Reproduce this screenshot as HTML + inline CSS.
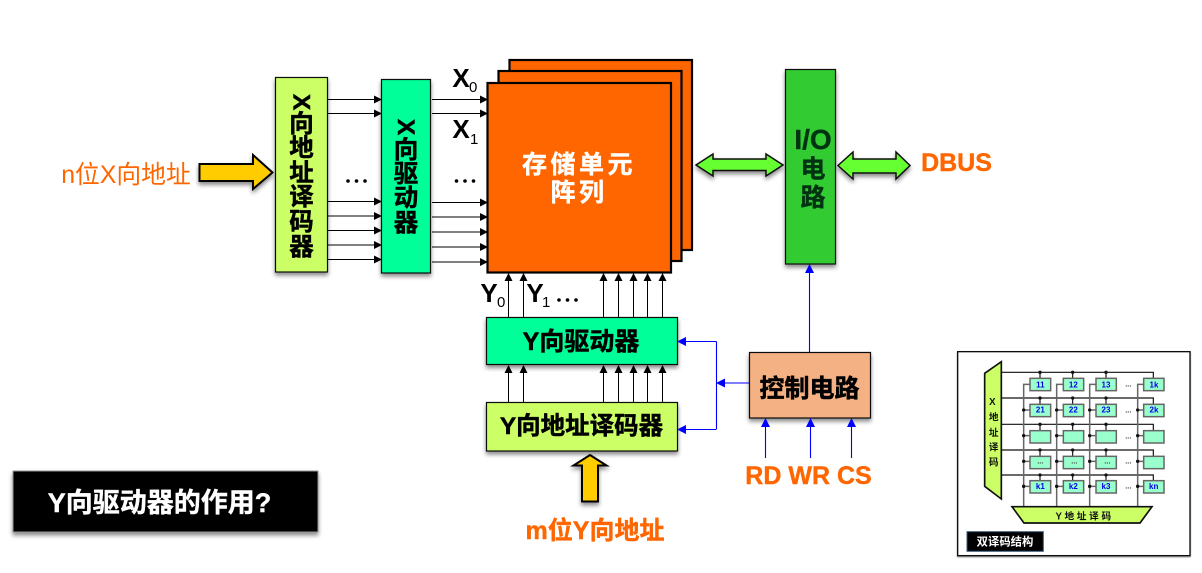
<!DOCTYPE html>
<html><head><meta charset="utf-8"><style>
html,body{margin:0;padding:0;background:#fff;width:1202px;height:573px;overflow:hidden}
svg{display:block}
text{font-family:"Liberation Sans","Noto Sans CJK SC",sans-serif;font-weight:bold;text-anchor:middle}
</style></head><body>
<svg width="1202" height="573" viewBox="0 0 1202 573" xmlns="http://www.w3.org/2000/svg">
<defs>
<filter id="s" x="-20%" y="-20%" width="140%" height="140%"><feDropShadow dx="0" dy="3" stdDeviation="2" flood-color="#000" flood-opacity=".45"/></filter>
<marker id="k" markerWidth="8" markerHeight="8" refX="7" refY="4" orient="auto" markerUnits="userSpaceOnUse"><path d="M0 0L8 4L0 8Z" fill="#000"/></marker>
<marker id="b" markerWidth="9" markerHeight="9" refX="8" refY="4.5" orient="auto" markerUnits="userSpaceOnUse"><path d="M0 0L9 4.5L0 9Z" fill="#00f"/></marker>
</defs>

<!-- memory stacks -->
<g stroke="#000" stroke-width="2.2" fill="#ff6600">
<rect x="509.500" y="60" width="182.500" height="190"/>
<rect x="498.500" y="71" width="183" height="190"/>
<rect x="487.500" y="83" width="183.500" height="189.500"/>
</g>
<g fill="#fff" stroke="#fff" stroke-width=".4">
<text x="579" y="173" font-size="25" letter-spacing="3.500">存储单元</text>
<text x="579" y="201" font-size="25" letter-spacing="3.500">阵列</text>
</g>

<!-- X decoder / driver -->
<rect x="275.500" y="77.500" width="52" height="194.500" fill="#ccff66" stroke="#111" stroke-width="1.200" filter="url(#s)"/>
<rect x="381.500" y="79.500" width="49" height="193.500" fill="#00ff99" stroke="#111" stroke-width="1.200" filter="url(#s)"/>
<g font-size="24.500" fill="#000" stroke="#000" stroke-width=".5">
<text transform="translate(301.500,102) rotate(90)" y="8">X</text>
<text x="301.500" y="132">向</text><text x="301.500" y="156">地</text><text x="301.500" y="181">址</text><text x="301.500" y="205">译</text><text x="301.500" y="230">码</text><text x="301.500" y="255">器</text>
<text transform="translate(406,127) rotate(90)" y="8">X</text>
<text x="406" y="158">向</text><text x="406" y="182">驱</text><text x="406" y="206">动</text><text x="406" y="231">器</text>
</g>

<!-- X lines -->
<g stroke="#000" stroke-width="1" fill="none">
<path d="M328 99.500H381" marker-end="url(#k)"/><path d="M328 113.500H381" marker-end="url(#k)"/>
<path d="M328 201.500H381" marker-end="url(#k)"/><path d="M328 216H381" marker-end="url(#k)"/><path d="M328 230.500H381" marker-end="url(#k)"/><path d="M328 245H381" marker-end="url(#k)"/><path d="M328 259.500H381" marker-end="url(#k)"/>
<path d="M432 99.500H487" marker-end="url(#k)"/><path d="M432 113.500H487" marker-end="url(#k)"/>
<path d="M432 202.500H487" marker-end="url(#k)"/><path d="M432 217H487" marker-end="url(#k)"/><path d="M432 232H487" marker-end="url(#k)"/><path d="M432 247H487" marker-end="url(#k)"/><path d="M432 262H487" marker-end="url(#k)"/>
</g>

<!-- Y lines -->
<g stroke="#000" stroke-width="1" fill="none">
<path d="M508.500 317V274" marker-end="url(#k)"/><path d="M523.500 317V274" marker-end="url(#k)"/><path d="M603.500 317V274" marker-end="url(#k)"/><path d="M618.500 317V274" marker-end="url(#k)"/><path d="M633.500 317V274" marker-end="url(#k)"/><path d="M647.500 317V274" marker-end="url(#k)"/><path d="M662.500 317V274" marker-end="url(#k)"/>
<path d="M508.500 402V366" marker-end="url(#k)"/><path d="M523.500 402V366" marker-end="url(#k)"/><path d="M603.500 402V366" marker-end="url(#k)"/><path d="M618.500 402V366" marker-end="url(#k)"/><path d="M633.500 402V366" marker-end="url(#k)"/><path d="M647.500 402V366" marker-end="url(#k)"/><path d="M662.500 402V366" marker-end="url(#k)"/>
</g>

<rect x="486.500" y="317.500" width="191" height="47" fill="#00ff99" stroke="#111" stroke-width="1.200" filter="url(#s)"/>
<rect x="486.500" y="402.500" width="191" height="48.500" fill="#ccff66" stroke="#111" stroke-width="1.200" filter="url(#s)"/>
<g fill="#000" stroke="#000" stroke-width=".5">
<text x="581" y="350" font-size="25">Y向驱动器</text>
<text x="581.500" y="434" font-size="24.500">Y向地址译码器</text>
</g>

<!-- labels X, Y -->
<g fill="#000">
<text x="461" y="87" font-size="26">X</text><text x="469" y="92" font-size="15" style="font-weight:normal;text-anchor:start">0</text>
<text x="461" y="138" font-size="26">X</text><text x="470" y="144" font-size="15" style="font-weight:normal;text-anchor:start">1</text>
<text x="489" y="302" font-size="26">Y</text><text x="497" y="307" font-size="15" style="font-weight:normal;text-anchor:start">0</text>
<text x="535" y="302" font-size="26">Y</text><text x="542" y="307" font-size="15" style="font-weight:normal;text-anchor:start">1</text>
<g><circle cx="348" cy="181" r="1.800"/><circle cx="356.500" cy="181" r="1.800"/><circle cx="365" cy="181" r="1.800"/>
<circle cx="456.500" cy="181" r="1.800"/><circle cx="465" cy="181" r="1.800"/><circle cx="473.500" cy="181" r="1.800"/>
<circle cx="559" cy="300" r="1.800"/><circle cx="567.500" cy="300" r="1.800"/><circle cx="576" cy="300" r="1.800"/></g>
</g>

<!-- IO and control -->
<rect x="785.500" y="69.500" width="50" height="194.500" fill="#33cc33" stroke="#111" stroke-width="1.200" filter="url(#s)"/>
<g fill="#031" stroke="#031" stroke-width=".4">
<text x="813" y="149" font-size="28">I/O</text>
<text x="813" y="177.500" font-size="25">电</text>
<text x="813" y="206" font-size="25">路</text>
</g>
<rect x="749.500" y="352.500" width="121" height="65.500" fill="#f4b183" stroke="#111" stroke-width="1.200" filter="url(#s)"/>
<text x="809.500" y="397" font-size="25" fill="#000" stroke="#000" stroke-width=".5">控制电路</text>

<!-- blue -->
<g stroke="#0000ff" stroke-width="1.100" fill="none">
<path d="M809.500 352V265" marker-end="url(#b)"/>
<path d="M749 383H717" marker-end="url(#b)"/>
<path d="M716.500 341.500V429"/>
<path d="M716.500 341.500H678" marker-end="url(#b)"/>
<path d="M716.500 429.500H678" marker-end="url(#b)"/>
<path d="M765.500 458V419" marker-end="url(#b)"/>
<path d="M810.500 458V419" marker-end="url(#b)"/>
<path d="M851.500 458V419" marker-end="url(#b)"/>
</g>

<!-- double arrows -->
<g fill="#66ff33" stroke="#111" stroke-width="1.500" filter="url(#s)">
<path d="M696 165L713 154V159H766V154L783 165L766 176V170.500H713V176Z"/>
<path d="M838 165.500L853 152V159H896V152L910 165.500L896 179V173H853V179Z"/>
</g>

<!-- yellow arrows -->
<g fill="#ffcc00" stroke="#000" stroke-width="2" filter="url(#s)">
<path d="M199.500 164H253V155L272.500 172.500L253 189V181H199.500Z"/>
<path d="M590 455L606.500 465.500H598V501.500H582V465.500H573.500Z"/>
</g>

<!-- orange labels -->
<g fill="#ff6600">
<text x="126" y="183" font-size="24.800" style="font-weight:normal">n位X向地址</text>
<g stroke="#ff6600" stroke-width=".4">
<text x="956.500" y="171" font-size="25">DBUS</text>
<text x="808.500" y="484" font-size="25">RD WR CS</text>
<text x="595" y="539" font-size="25">m位Y向地址</text>
</g>
</g>

<!-- question -->
<rect x="13" y="471" width="305" height="61" fill="#000" stroke="#999" stroke-width="1" filter="url(#s)"/>
<text x="159.500" y="512" font-size="27" fill="#fff" stroke="#fff" stroke-width=".4">Y向驱动器的作用?</text>

<!-- inset -->
<g transform="translate(950,345) scale(.33333)">
<rect x="23" y="20" width="697" height="612" fill="#fff" stroke="#111" stroke-width="4" filter="url(#s)"/>
<g stroke="#111" stroke-width="3.500" fill="none">
<path d="M155 82H610V100M155 159H610V178M155 238H610V257M155 315H610V334M155 390H610V407"/>
<path d="M270 82V100M368 82V100M468 82V100M270 159V178M368 159V178M468 159V178M270 238V257M368 238V257M468 238V257M270 315V334M368 315V334M468 315V334M270 390V407M368 390V407M468 390V407"/>
</g>
<g stroke="#666" stroke-width="4.500" fill="none">
<path d="M221 484V118H240M320 484V118H340M419 484V118H438M563 484V118H581"/>
<path d="M221 195H240M320 195H340M419 195H438M563 195H581M221 272H240M320 272H340M419 272H438M563 272H581M221 349H240M320 349H340M419 349H438M563 349H581M221 424H240M320 424H340M419 424H438M563 424H581"/>
</g>
<g fill="#111">
<circle cx="270" cy="82" r="5"/><circle cx="368" cy="82" r="5"/><circle cx="468" cy="82" r="5"/>
<circle cx="270" cy="159" r="5"/><circle cx="368" cy="159" r="5"/><circle cx="468" cy="159" r="5"/>
<circle cx="270" cy="238" r="5"/><circle cx="368" cy="238" r="5"/><circle cx="468" cy="238" r="5"/>
<circle cx="270" cy="315" r="5"/><circle cx="368" cy="315" r="5"/><circle cx="468" cy="315" r="5"/>
<circle cx="270" cy="390" r="5"/><circle cx="368" cy="390" r="5"/><circle cx="468" cy="390" r="5"/>
<circle cx="221" cy="195" r="5"/><circle cx="320" cy="195" r="5"/><circle cx="419" cy="195" r="5"/><circle cx="563" cy="195" r="5"/>
<circle cx="221" cy="272" r="5"/><circle cx="320" cy="272" r="5"/><circle cx="419" cy="272" r="5"/><circle cx="563" cy="272" r="5"/>
<circle cx="221" cy="349" r="5"/><circle cx="320" cy="349" r="5"/><circle cx="419" cy="349" r="5"/><circle cx="563" cy="349" r="5"/>
<circle cx="221" cy="424" r="5"/><circle cx="320" cy="424" r="5"/><circle cx="419" cy="424" r="5"/><circle cx="563" cy="424" r="5"/>
</g>
<g fill="#99ffcc" stroke="#666" stroke-width="4.500">
<rect x="240" y="100" width="62" height="37"/><rect x="340" y="100" width="61" height="37"/><rect x="438" y="100" width="61" height="37"/><rect x="581" y="100" width="61" height="37"/>
<rect x="240" y="178" width="62" height="37"/><rect x="340" y="178" width="61" height="37"/><rect x="438" y="178" width="61" height="37"/><rect x="581" y="178" width="61" height="37"/>
<rect x="240" y="257" width="62" height="37"/><rect x="340" y="257" width="61" height="37"/><rect x="438" y="257" width="61" height="37"/><rect x="581" y="257" width="61" height="37"/>
<rect x="240" y="334" width="62" height="37"/><rect x="340" y="334" width="61" height="37"/><rect x="438" y="334" width="61" height="37"/><rect x="581" y="334" width="61" height="37"/>
<rect x="240" y="407" width="62" height="37"/><rect x="340" y="407" width="61" height="37"/><rect x="438" y="407" width="61" height="37"/><rect x="581" y="407" width="61" height="37"/>
</g>
<g font-size="24" fill="#0000ee">
<text x="271" y="127">11</text><text x="370" y="127">12</text><text x="468" y="127">13</text><text x="612" y="127">1k</text>
<text x="271" y="202">21</text><text x="370" y="202">22</text><text x="468" y="202">23</text><text x="612" y="202">2k</text>
<text x="271" y="432">k1</text><text x="370" y="432">k2</text><text x="468" y="432">k3</text><text x="611" y="432">kn</text>
</g>
<g font-size="22" fill="#333" style="font-weight:normal">
<text x="535" y="124">...</text><text x="535" y="202">...</text><text x="535" y="281">...</text><text x="535" y="355">...</text><text x="535" y="431">...</text>
<text x="271" y="355">...</text><text x="373" y="355">...</text><text x="472" y="355">...</text>
</g>
<path d="M104 85L154 50V462L104 424Z" fill="#ccff66" stroke="#111" stroke-width="5"/>
<path d="M186 485H606L570 534H222Z" fill="#ccff66" stroke="#111" stroke-width="5"/>
<g font-size="29" fill="#111" style="font-weight:normal">
<text x="127" y="180">X</text><text x="131" y="226">地</text><text x="131" y="273">址</text><text x="131" y="317">译</text><text x="131" y="362">码</text>
<text x="400" y="523">Y 地 址 译 码</text>
</g>
<rect x="51" y="560" width="229" height="59" fill="#000" stroke="#3a5a7a" stroke-width="3"/>
<text x="165" y="602" font-size="34" fill="#fff">双译码结构</text>
</g>
</svg>
</body></html>
